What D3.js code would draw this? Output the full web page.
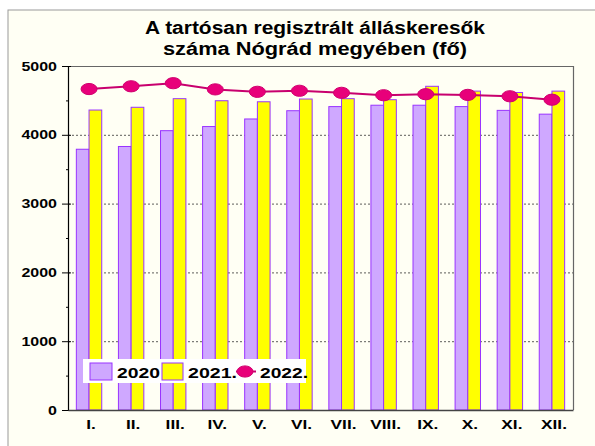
<html>
  <head>
    <meta charset="utf-8"/>
    <style>
      body { margin: 0; background: white; }
      text { font-family: Arial, "Liberation Sans", sans-serif; font-weight: bold; fill: black; }
    </style>
    <script src="https://d3js.org/d3.v7.min.js"></script>
  </head>
  <body>
    <script>
    // data
    var months = ["I.", "II.", "III.", "IV.", "V.", "VI.", "VII.", "VIII.", "IX.", "X.", "XI.", "XII."];
    var v2020 = [3790, 3830, 4060, 4120, 4230, 4350, 4410, 4430, 4430, 4410, 4355, 4300];
    var v2021 = [4360, 4400, 4525, 4495, 4480, 4520, 4525, 4510, 4705, 4635, 4615, 4635];
    var v2022 = [4665, 4705, 4750, 4660, 4625, 4640, 4610, 4575, 4590, 4580, 4560, 4510];
    var yTicks = [0, 1000, 2000, 3000, 4000, 5000];
    var titleLines = ["A tartósan regisztrált álláskeresők", "száma Nógrád megyében (fő)"];
    var legendNames = ["2020", "2021.", "2022."];

    var W = 595, H = 446;
    var plot = {left: 68, top: 66, right: 573, bottom: 410};
    var stretch = 1.28; // the original's text is drawn wide

    var svg = d3.select("body").append("svg").attr("width", W).attr("height", H);

    // chart frame
    svg.append("rect").attr("x", 8).attr("y", 10).attr("width", W).attr("height", H)
      .attr("fill", "#fffff4").attr("stroke", "#9a9a9a").attr("stroke-width", 1);

    var x = d3.scaleBand().domain(months).range([plot.left, plot.right]);
    var y = d3.scaleLinear().domain([0, 5000]).range([plot.bottom, plot.top]);

    // title
    var titleW = [340, 304];
    svg.append("g").selectAll("text").data(titleLines).enter().append("text")
      .attr("x", (d, i) => 315 - titleW[i] / 2).attr("y", (d, i) => 34 + i * 21)
      .attr("font-size", 17.5)
      .attr("textLength", (d, i) => titleW[i]).attr("lengthAdjust", "spacingAndGlyphs")
      .text(d => d);

    // grid
    svg.append("g").selectAll("line").data(yTicks.filter(d => d > 0 && d < 5000)).enter().append("line")
      .attr("x1", plot.left).attr("x2", plot.right)
      .attr("y1", d => y(d) + 0.5).attr("y2", d => y(d) + 0.5)
      .attr("stroke", "#333").attr("stroke-dasharray", "2,2").attr("stroke-width", 0.8);

    // plot border (top, right)
    svg.append("path")
      .attr("d", "M" + plot.left + "," + (plot.top + 0.5) + "H" + (plot.right + 0.5) + "V" + plot.bottom)
      .attr("fill", "none").attr("stroke", "#666").attr("stroke-width", 1.2);

    var half = 12.7;
    var bars = svg.append("g");
    bars.selectAll(".b20").data(v2020).enter().append("rect")
      .attr("x", (d, i) => x(months[i]) + x.bandwidth() / 2 - half)
      .attr("y", d => y(d)).attr("width", half).attr("height", d => plot.bottom - y(d))
      .attr("fill", "#cfa8ff").attr("stroke", "#9933ff").attr("stroke-width", 1);
    bars.selectAll(".b21").data(v2021).enter().append("rect")
      .attr("x", (d, i) => x(months[i]) + x.bandwidth() / 2)
      .attr("y", d => y(d)).attr("width", half).attr("height", d => plot.bottom - y(d))
      .attr("fill", "#ffff00").attr("stroke", "#9933ff").attr("stroke-width", 1);

    // 2022 line
    var line = d3.line().x((d, i) => x(months[i]) + x.bandwidth() / 2).y(d => y(d));
    svg.append("path").datum(v2022).attr("d", line)
      .attr("fill", "none").attr("stroke", "#c8006e").attr("stroke-width", 2);
    svg.append("g").selectAll("ellipse").data(v2022).enter().append("ellipse")
      .attr("cx", (d, i) => x(months[i]) + x.bandwidth() / 2).attr("cy", d => y(d))
      .attr("rx", 8).attr("ry", 5.6).attr("fill", "#e8007a").attr("stroke", "#d0006e");

    // y axis
    var yAxis = d3.axisLeft(y).tickValues(d3.range(0, 5001, 500)).tickSize(5)
      .tickFormat(d => yTicks.indexOf(d) >= 0 ? d : "");
    var ya = svg.append("g").attr("transform", "translate(" + plot.left + ",0)").call(yAxis);
    ya.select(".domain").attr("stroke", "#000").attr("stroke-width", 1.2);
    ya.selectAll(".tick line").attr("stroke", "#000")
      .attr("x1", d => yTicks.indexOf(d) >= 0 ? 3 : 1)
      .attr("x2", d => yTicks.indexOf(d) >= 0 ? -6 : -2);
    ya.selectAll(".tick text").attr("x", -11 / stretch).attr("font-size", 12.5)
      .attr("transform", "scale(" + stretch + ",1)")
      .attr("font-family", "Arial, 'Liberation Sans', sans-serif").attr("font-weight", "bold");

    // x axis
    var xa = svg.append("g").attr("transform", "translate(0," + plot.bottom + ")")
      .call(d3.axisBottom(x).tickSize(0).tickPadding(9));
    xa.select(".domain").attr("stroke", "#444").attr("stroke-width", 1.5);
    xa.selectAll(".tick text").attr("font-size", 13.5).attr("x", 2 / stretch)
      .attr("transform", "scale(" + stretch + ",1)")
      .attr("font-family", "Arial, 'Liberation Sans', sans-serif").attr("font-weight", "bold");

    // legend
    var lg = svg.append("g").attr("transform", "translate(83,359)");
    lg.append("rect").attr("width", 223).attr("height", 24).attr("fill", "white");
    lg.append("rect").attr("x", 7).attr("y", 4).attr("width", 22).attr("height", 17)
      .attr("fill", "#cfa8ff").attr("stroke", "#9933ff");
    lg.append("text").attr("x", 34).attr("y", 18.5).attr("font-size", 15)
      .attr("textLength", 43).attr("lengthAdjust", "spacingAndGlyphs").text(legendNames[0]);
    lg.append("rect").attr("x", 79).attr("y", 4).attr("width", 21).attr("height", 17)
      .attr("fill", "#ffff00").attr("stroke", "#9933ff");
    lg.append("text").attr("x", 105).attr("y", 18.5).attr("font-size", 15)
      .attr("textLength", 49).attr("lengthAdjust", "spacingAndGlyphs").text(legendNames[1]);
    lg.append("line").attr("x1", 153).attr("x2", 173).attr("y1", 12.5).attr("y2", 12.5)
      .attr("stroke", "#c8006e").attr("stroke-width", 2);
    lg.append("ellipse").attr("cx", 162).attr("cy", 12.5).attr("rx", 8).attr("ry", 5.6)
      .attr("fill", "#e8007a").attr("stroke", "#d0006e");
    lg.append("text").attr("x", 177).attr("y", 18.5).attr("font-size", 15)
      .attr("textLength", 48).attr("lengthAdjust", "spacingAndGlyphs").text(legendNames[2]);
    </script>
  </body>
</html>
